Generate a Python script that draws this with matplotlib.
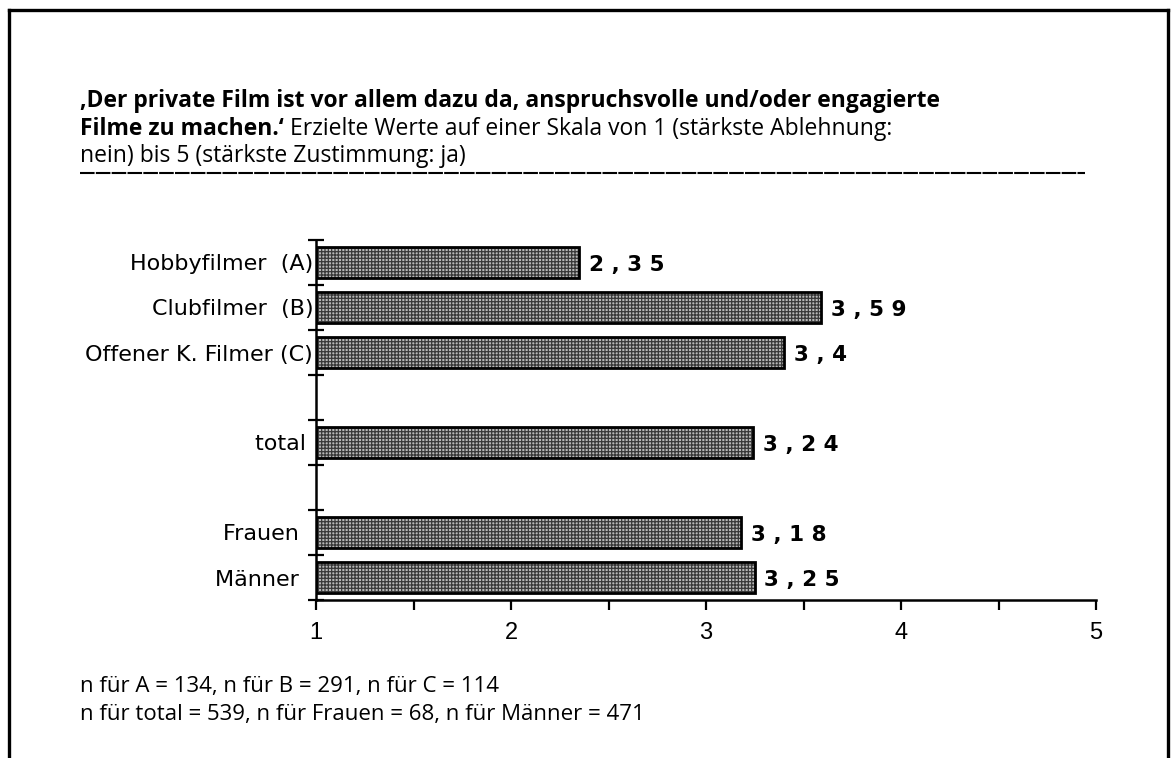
import matplotlib.pyplot as plt
import numpy as np

# Survey results: mean agreement on a 1..5 scale, empty rows separate the groups
categories = ["Hobbyfilmer  (A)", "Clubfilmer  (B)", "Offener K. Filmer (C)", "",
              "total ", "", "Frauen  ", "Männer  "]
values = [2.35, 3.59, 3.4, np.nan, 3.24, np.nan, 3.18, 3.25]
x_ticks = [1, 2, 3, 4, 5]
x_minor = [1.5, 2.5, 3.5, 4.5]

# sample sizes for the footnote
groups_1 = ["A", "B", "C"]
n_1 = [134, 291, 114]
groups_2 = ["total", "Frauen", "Männer"]
n_2 = [539, 68, 471]

title_bold_1 = "\u201aDer private Film ist vor allem dazu da, anspruchsvolle und/oder engagierte"
title_bold_2 = "Filme zu machen.\u2018"
title_rest_2 = " Erzielte Werte auf einer Skala von 1 (stärkste Ablehnung:"
title_rest_3 = "nein) bis 5 (stärkste Zustimmung: ja)"

text_font = "Open Sans"
chart_font = "DejaVu Sans"

plt.rcParams["hatch.linewidth"] = 0.9

fig = plt.figure(figsize=(11.71, 7.58), dpi=100)
ax = fig.add_axes([316 / 1171, 158 / 758, 780 / 1171, 360 / 758])

pos = np.arange(len(categories)) + 0.5
vals = np.array(values)
x0 = x_ticks[0]

# textured fill first, then a plain black outline on top
ax.barh(pos, vals - x0, left=x0, height=0.67, facecolor="#b8b8b8",
        edgecolor="#383838", hatch="+++++", linewidth=0, zorder=2)
ax.barh(pos, vals - x0, left=x0, height=0.67, facecolor="none",
        edgecolor="black", linewidth=2, zorder=3)

for p, v in zip(pos, vals):
    if np.isnan(v):
        continue
    label = " ".join(f"{v:.2f}".rstrip("0").replace(".", ","))
    ax.annotate(label, xy=(v, p), xytext=(7, -2), textcoords="offset points",
                ha="left", va="center", fontsize=15.5, fontweight="bold",
                family=chart_font)

ax.set_xlim(x_ticks[0], x_ticks[-1])
ax.set_ylim(len(categories), 0)

ax.set_xticks(x_ticks)
ax.set_xticks(x_minor, minor=True)
ax.set_xticklabels([str(t) for t in x_ticks], fontsize=17, family="Liberation Sans")
ax.tick_params(axis="x", which="both", direction="out", length=7, width=1.6, pad=9)

ax.set_yticks(np.arange(len(categories) + 1))
ax.set_yticklabels([])
ax.set_yticks(pos, minor=True)
ax.set_yticklabels(categories, minor=True, fontsize=16, family=chart_font)
ax.tick_params(axis="y", which="major", direction="inout", length=12, width=1.6)
ax.tick_params(axis="y", which="minor", length=0, pad=2)

for side in ["top", "right"]:
    ax.spines[side].set_visible(False)
for side in ["left", "bottom"]:
    ax.spines[side].set_linewidth(1.8)

# heading above the chart: bold statement followed by the scale note
t1 = fig.text(80 / 1171, 1 - 113 / 758, title_bold_1, fontsize=16.5, fontweight="bold",
              family=text_font, va="bottom")
t2 = fig.text(80 / 1171, 1 - 141 / 758, title_bold_2, fontsize=16.5, fontweight="bold",
              family=text_font, va="bottom")
ax.annotate(title_rest_2, xy=(1, 0), xycoords=t2, va="bottom", ha="left",
            fontsize=16.5, family=text_font, annotation_clip=False)
fig.text(80 / 1171, 1 - 168 / 758, title_rest_3, fontsize=16.5, family=text_font, va="bottom")

# separator rule under the heading
fig.add_artist(plt.Line2D([80 / 1171, 1085 / 1171], [1 - 173 / 758, 1 - 173 / 758],
                          color="black", linewidth=1.5, linestyle=(0, (7, 0.6)),
                          transform=fig.transFigure))

# footnote with the group sizes
foot_1 = ", ".join(f"n für {g} = {n}" for g, n in zip(groups_1, n_1))
foot_2 = ", ".join(f"n für {g} = {n}" for g, n in zip(groups_2, n_2))
fig.text(80 / 1171, 1 - 697 / 758, foot_1, fontsize=16, family=text_font, va="bottom")
fig.text(80 / 1171, 1 - 725 / 758, foot_2, fontsize=16, family=text_font, va="bottom")

# page border: left, top and right edges
frame = dict(color="black", linewidth=2.4, transform=fig.transFigure, clip_on=False)
fig.add_artist(plt.Line2D([8.5 / 1171, 8.5 / 1171], [0, 1 - 9.5 / 758], **frame))
fig.add_artist(plt.Line2D([8.5 / 1171, 1167.5 / 1171], [1 - 9.5 / 758, 1 - 9.5 / 758], **frame))
fig.add_artist(plt.Line2D([1167.5 / 1171, 1167.5 / 1171], [0, 1 - 9.5 / 758], **frame))

fig.savefig("out.png", dpi=100)
